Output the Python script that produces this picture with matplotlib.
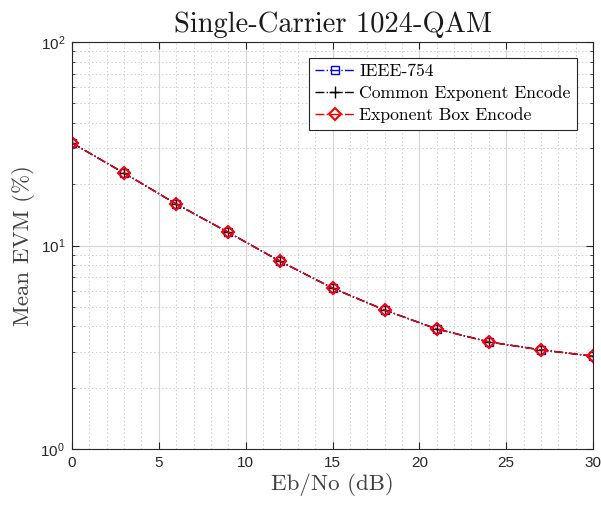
import numpy as np
import matplotlib
matplotlib.use("Agg")
import matplotlib.pyplot as plt
from matplotlib.ticker import LogLocator, NullFormatter, MultipleLocator

# Eb/No points (dB) and mean EVM (%)
ebno = [0, 3, 6, 9, 12, 15, 18, 21, 24, 27, 30]
evm_ieee = [31.9, 22.7, 16.0, 11.6, 8.35, 6.18, 4.82, 3.89, 3.36, 3.07, 2.86]
evm_common = [31.9, 22.7, 16.0, 11.6, 8.35, 6.18, 4.82, 3.89, 3.36, 3.07, 2.86]
evm_box = [31.9, 22.7, 16.0, 11.6, 8.35, 6.18, 4.82, 3.89, 3.36, 3.07, 2.86]
labels = ["IEEE-754", "Common Exponent Encode", "Exponent Box Encode"]

serif = "cmr10"
plt.rcParams["font.family"] = ["Liberation Sans", "DejaVu Sans"]
plt.rcParams["mathtext.fontset"] = "custom"
plt.rcParams["mathtext.rm"] = "Liberation Sans"
plt.rcParams["mathtext.it"] = "Liberation Sans"

fig = plt.figure(figsize=(6.01, 5.08), dpi=100)
ax = fig.add_axes([0.1198, 0.1161, 0.8669, 0.8012])

ax.semilogy(ebno, evm_ieee, color="blue", ls="-.", marker="s", ms=6,
            mfc="none", lw=1.0, label=labels[0])
ax.semilogy(ebno, evm_common, color="black", ls="-.", marker="+", ms=8,
            lw=1.0, label=labels[1])
ax.semilogy(ebno, evm_box, color="red", ls="-.", marker="D", ms=6,
            mfc="none", mew=1.5, lw=1.0, label=labels[2])

ax.set_xlim(0, 30)
ax.set_ylim(1, 100)
ax.set_xticks(range(0, 31, 5))
ax.yaxis.set_major_locator(LogLocator(base=10))
ax.yaxis.set_minor_locator(LogLocator(base=10, subs=np.arange(2, 10)))
ax.yaxis.set_minor_formatter(NullFormatter())
ax.xaxis.set_minor_locator(MultipleLocator(1))

ax.grid(True, which="major", color="#d4d4d4", lw=0.8, ls="-")
ax.grid(True, which="minor", color="#cfcfcf", lw=0.7, ls=(0, (1.5, 2.5)))
ax.tick_params(which="both", direction="in", top=True, right=True,
               labelsize=11, colors="#262626", pad=5)
ax.tick_params(which="major", length=5)
ax.tick_params(which="minor", length=2.5)
ax.tick_params(axis="x", which="minor", length=0)
for s in ax.spines.values():
    s.set_color("#262626")
    s.set_linewidth(0.8)

ax.set_title("Single-Carrier 1024-QAM", fontfamily=serif, fontsize=20.5,
             pad=7, color="#1a1a1a")
ax.set_xlabel("Eb/No (dB)", fontfamily=serif, fontsize=16.5, color="#404040",
              labelpad=2)
ax.set_ylabel("Mean EVM (%)", fontfamily=serif, fontsize=16.5, color="#404040")

leg = ax.legend(loc="upper right", bbox_to_anchor=(0.969, 0.961),
                prop={"family": serif, "size": 12.7}, fancybox=False,
                framealpha=1, edgecolor="#262626", borderpad=0.35,
                labelspacing=0.35, handlelength=2.2, handletextpad=0.3,
                borderaxespad=0.0)
leg.get_frame().set_linewidth(0.8)

fig.savefig("out.png", dpi=100)
